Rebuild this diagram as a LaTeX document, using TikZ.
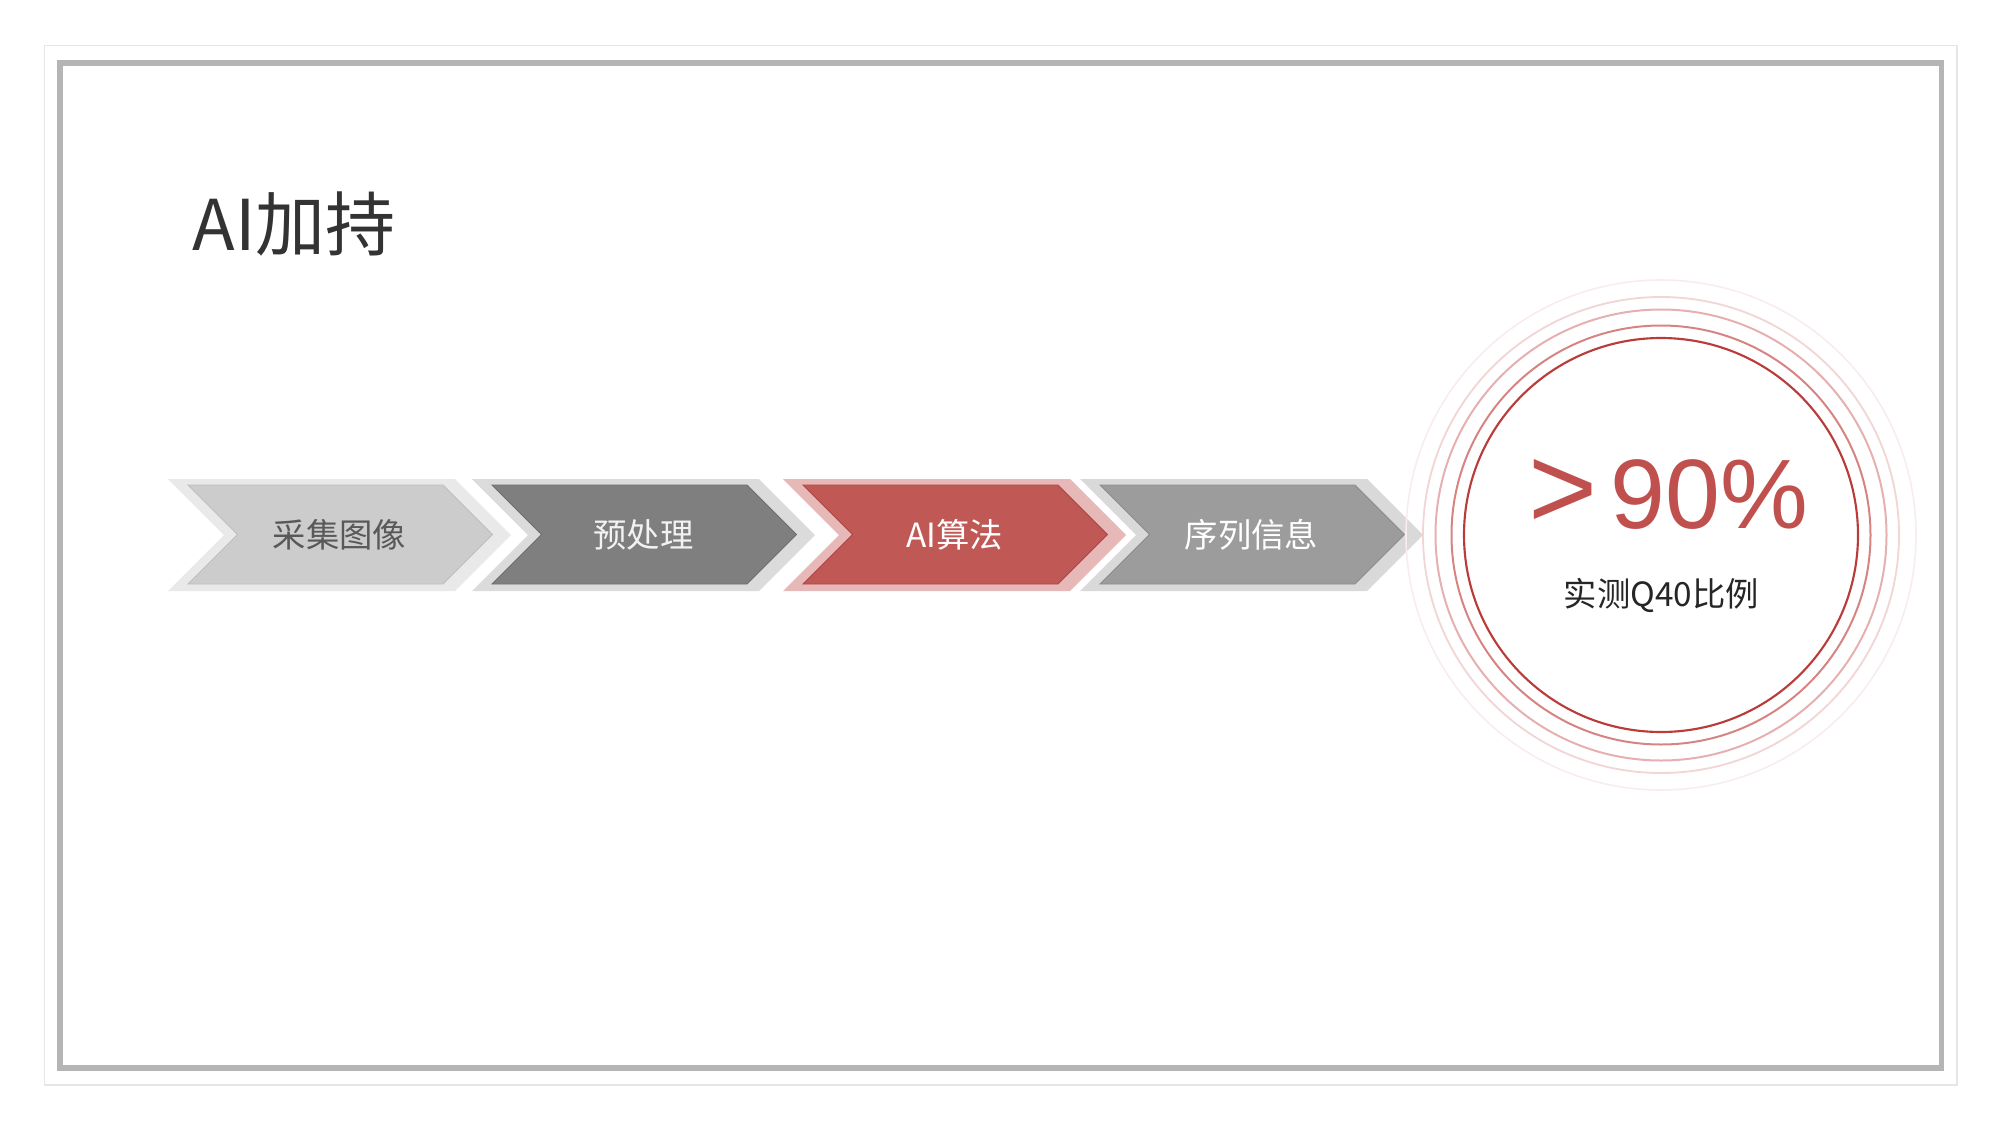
\documentclass[tikz,border=0pt]{standalone}
\usepackage{fontspec}
\setmainfont{Noto Sans CJK SC}
\newfontfamily\numfont{Liberation Sans}
\tikzset{every picture/.style={line width=1pt}}

\begin{document}
\begin{tikzpicture}[x=0.75pt,y=0.75pt,yscale=-1,xscale=1]
\useasboundingbox (0,0) rectangle (2000,1129);

%Shape: Rectangle (outer frame)
\draw  [color={rgb, 255:red, 230; green, 230; blue, 230 }  ,line width=1.1] (44.7,45.7) rectangle (1957,1085) ;
%Shape: Rectangle (gray frame)
\draw  [color={rgb, 255:red, 181; green, 181; blue, 181 }  ,line width=4] (60,63) rectangle (1941.5,1068) ;

%Shape: Chevron 1
\draw  [draw opacity=0][fill={rgb, 255:red, 233; green, 233; blue, 233 }  ,fill opacity=1 ] (168,479) -- (455,479) -- (511,535) -- (455,591) -- (168,591) -- (224,535) -- cycle ;
\draw  [color={rgb, 255:red, 190; green, 190; blue, 190 }  ,line width=0.6][fill={rgb, 255:red, 204; green, 204; blue, 204 }  ,fill opacity=1 ] (188,485) -- (443,485) -- (492.5,534.5) -- (443,584) -- (188,584) -- (237.5,534.5) -- cycle ;
%Shape: Chevron 2
\draw  [draw opacity=0][fill={rgb, 255:red, 219; green, 219; blue, 219 }  ,fill opacity=1 ] (472,479) -- (759,479) -- (815,535) -- (759,591) -- (472,591) -- (528,535) -- cycle ;
\draw  [color={rgb, 255:red, 110; green, 110; blue, 110 }  ,line width=0.6][fill={rgb, 255:red, 127; green, 127; blue, 127 }  ,fill opacity=1 ] (492,485) -- (747,485) -- (796.5,534.5) -- (747,584) -- (492,584) -- (541.5,534.5) -- cycle ;
%Shape: Chevron 3
\draw  [draw opacity=0][fill={rgb, 255:red, 230; green, 185; blue, 184 }  ,fill opacity=1 ] (783,479) -- (1070,479) -- (1126,535) -- (1070,591) -- (783,591) -- (839,535) -- cycle ;
\draw  [color={rgb, 255:red, 175; green, 70; blue, 68 }  ,line width=0.6][fill={rgb, 255:red, 192; green, 88; blue, 86 }  ,fill opacity=1 ] (803,485) -- (1058,485) -- (1107.5,534.5) -- (1058,584) -- (803,584) -- (852.5,534.5) -- cycle ;
%Shape: Chevron 4
\draw  [draw opacity=0][fill={rgb, 255:red, 217; green, 217; blue, 217 }  ,fill opacity=1 ] (1080,479) -- (1367,479) -- (1423,535) -- (1367,591) -- (1080,591) -- (1136,535) -- cycle ;
\draw  [color={rgb, 255:red, 140; green, 140; blue, 140 }  ,line width=0.6][fill={rgb, 255:red, 156; green, 156; blue, 156 }  ,fill opacity=1 ] (1100,485) -- (1355,485) -- (1404.5,534.5) -- (1355,584) -- (1100,584) -- (1149.5,534.5) -- cycle ;

%Shape: Circle rings
\draw  [color={rgb, 255:red, 248; green, 236; blue, 236 }  ,line width=1.2] (1661,535) circle [radius=255] ;
\draw  [color={rgb, 255:red, 242; green, 214; blue, 214 }  ,line width=1.4] (1661,535) circle [radius=238] ;
\draw  [color={rgb, 255:red, 230; green, 176; blue, 176 }  ,line width=1.5] (1661,535) circle [radius=225.5] ;
\draw  [color={rgb, 255:red, 214; green, 132; blue, 130 }  ,line width=1.5] (1661,535) circle [radius=209.5] ;
\draw  [color={rgb, 255:red, 185; green, 60; blue, 58 }  ,line width=1.6] (1661,535) circle [radius=197] ;

% Text Node
\draw (192,250) node [anchor=base west][inner sep=0pt]  [font=\fontsize{52.5}{60}\selectfont, color={rgb, 255:red, 51; green, 51; blue, 51 }]  (title) {AI加持};
% Text Node
\draw (339.5,535) node [inner sep=0pt]  [font=\fontsize{25}{30}\selectfont, color={rgb, 255:red, 89; green, 89; blue, 89 }]  (collect) {采集图像};
% Text Node
\draw (643.5,535) node [inner sep=0pt]  [font=\fontsize{25}{30}\selectfont, color={rgb, 255:red, 242; green, 242; blue, 242 }]  (prep) {预处理};
% Text Node
\draw (954.5,535) node [inner sep=0pt]  [font=\fontsize{25}{30}\selectfont, color=white]  (algo) {AI算法};
% Text Node
\draw (1251.5,535) node [inner sep=0pt]  [font=\fontsize{25}{30}\selectfont, color=white]  (seq) {序列信息};
% Text Node
\draw (1668,528) node [anchor=base][inner sep=0pt]  [font=\numfont\fontsize{74}{80}\selectfont, color={rgb, 255:red, 192; green, 80; blue, 77 }]  (ratio) {\scalebox{1.2}{>}\hspace{10pt}90\%};
% Text Node
\draw (1661.5,595) node [inner sep=0pt]  [font=\fontsize{25}{30}\selectfont, color={rgb, 255:red, 38; green, 38; blue, 38 }]  (q40) {实测Q40比例};

\end{tikzpicture}
\end{document}
